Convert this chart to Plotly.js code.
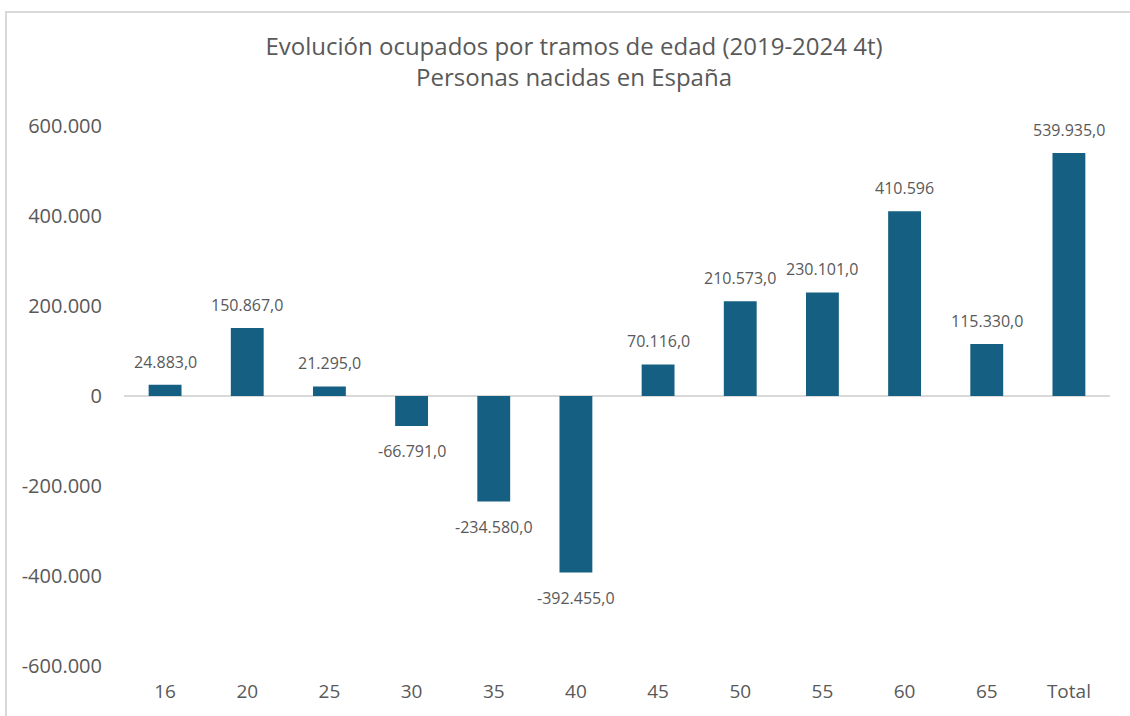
<!DOCTYPE html>
<html>
<head>
<meta charset="utf-8">
<script src="https://cdn.plot.ly/plotly-3.0.1.min.js"></script>
<style>
  html, body { margin: 0; padding: 0; background: #ffffff; overflow: hidden; }
  #chart { position: absolute; left: 0; top: 0; width: 1130px; height: 716px; }
  #frame { position: absolute; left: 5px; top: 11px; width: 1160px; height: 740px;
           border: 2px solid #d9d9d9; pointer-events: none; box-sizing: border-box; }
</style>
</head>
<body>
<div id="chart"></div>
<div id="frame"></div>
<script>
const categories = ["16", "20", "25", "30", "35", "40", "45", "50", "55", "60", "65", "Total"];
const values = [24883, 150867, 21295, -66791, -234580, -392455, 70116, 210573, 230101, 410596, 115330, 539935];
const labels = ["24.883,0", "150.867,0", "21.295,0", "-66.791,0", "-234.580,0", "-392.455,0",
                "70.116,0", "210.573,0", "230.101,0", "410.596", "115.330,0", "539.935,0"];
const yTickValues = [-600000, -400000, -200000, 0, 200000, 400000, 600000];
const yTickLabels = ["-600.000", "-400.000", "-200.000", "0", "200.000", "400.000", "600.000"];

const textColor = "#595959";
const fontFamily = "'Open Sans', 'Noto Sans', sans-serif";

const trace = {
  type: "bar",
  x: categories,
  y: values,
  width: 0.4,
  marker: { color: "#156082" },
  hoverinfo: "skip"
};

// category index i is used as the annotation position on the category axis
const annotations = categories.map((c, i) => ({
  x: i,
  y: values[i],
  xref: "x",
  yref: "y",
  text: labels[i],
  showarrow: false,
  yanchor: "middle",
  xanchor: "center",
  yshift: values[i] >= 0 ? 23 : -25,
  font: { family: fontFamily, size: 16, color: textColor }
}));

const layout = {
  width: 1130,
  height: 716,
  margin: { l: 124, r: 20, t: 126, b: 50 },
  paper_bgcolor: "rgba(0,0,0,0)",
  plot_bgcolor: "rgba(0,0,0,0)",
  showlegend: false,
  title: {
    text: "Evolución ocupados por tramos de edad (2019-2024 4t)<br>Personas nacidas en España",
    font: { family: fontFamily, size: 24, color: textColor },
    xref: "container",
    yref: "container",
    x: 0.508,
    xanchor: "center",
    y: 1 - 55 / 716,
    yanchor: "top"
  },
  xaxis: {
    type: "category",
    categoryorder: "array",
    categoryarray: categories,
    range: [-0.5, categories.length - 0.5],
    autorange: false,
    showgrid: false,
    showline: false,
    zeroline: false,
    ticks: "",
    ticklabelstandoff: 12,
    tickfont: { family: fontFamily, size: 19, color: textColor }
  },
  yaxis: {
    range: [-600000, 600000],
    autorange: false,
    tickvals: yTickValues,
    ticktext: yTickLabels,
    showgrid: false,
    showline: false,
    zeroline: true,
    zerolinecolor: "#d9d9d9",
    zerolinewidth: 2,
    ticks: "",
    ticklabelstandoff: 21,
    tickfont: { family: fontFamily, size: 20, color: textColor }
  },
  annotations: annotations
};

Plotly.newPlot("chart", [trace], layout, { displayModeBar: false, staticPlot: true });
</script>
</body>
</html>
